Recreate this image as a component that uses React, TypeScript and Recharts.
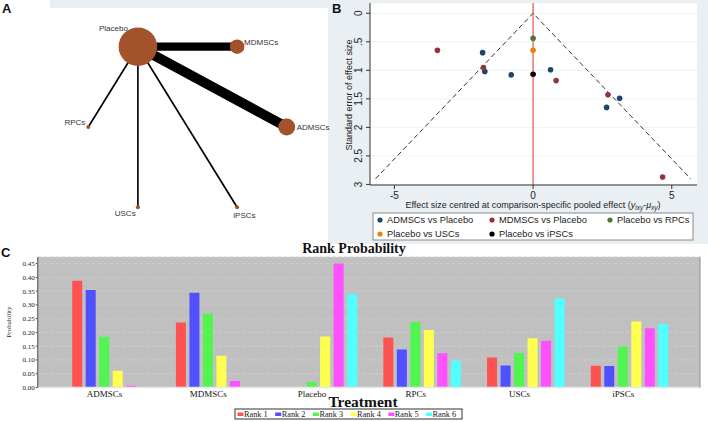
import React from 'react';
import {
  ScatterChart,
  Scatter,
  XAxis,
  YAxis,
  ZAxis,
  ReferenceLine,
  CartesianGrid,
  BarChart,
  Bar,
} from 'recharts';

// ---------------- Panel A: network plot ----------------
const networkNodes = ['Placebo', 'MDMSCs', 'ADMSCs', 'iPSCs', 'USCs', 'RPCs'];
const networkNodeX = [-0.5, 0.5, 1, 0.5, -0.5, -1];
const networkNodeY = [0.866, 0.866, 0, -0.866, -0.866, 0];
const networkNodeWeight = [372, 53, 72, 4, 4, 4];
const networkEdgeFrom = ['Placebo', 'Placebo', 'Placebo', 'Placebo', 'Placebo'];
const networkEdgeTo = ['ADMSCs', 'MDMSCs', 'RPCs', 'USCs', 'iPSCs'];
const networkEdgeStudies = [6, 5, 1, 1, 1];

// ---------------- Panel B: comparison-adjusted funnel plot ----------------
const funnelSeriesNames = [
  'ADMSCs vs Placebo',
  'MDMSCs vs Placebo',
  'Placebo vs RPCs',
  'Placebo vs USCs',
  'Placebo vs iPSCs',
];
const funnelSeriesColors = ['#1a476f', '#90353b', '#55752f', '#e8830f', '#000000'];
const admscVsPlaceboEffect = [-1.82, -1.74, -0.79, 0.63, 2.65, 3.12];
const admscVsPlaceboSE = [0.69, 1.02, 1.08, 0.99, 1.65, 1.49];
const mdmscVsPlaceboEffect = [-3.45, -1.79, 0.83, 2.7, 4.67];
const mdmscVsPlaceboSE = [0.65, 0.95, 1.18, 1.43, 2.87];
const placeboVsRpcEffect = [0];
const placeboVsRpcSE = [0.44];
const placeboVsUscEffect = [0];
const placeboVsUscSE = [0.65];
const placeboVsIpscEffect = [0];
const placeboVsIpscSE = [1.07];
const funnelBoundEffect = [-5.68, 0, 5.68];
const funnelBoundSE = [2.9, 0, 2.9];
const funnelTicksX = [-5, 0, 5];
const funnelTicksY = [0, 0.5, 1, 1.5, 2, 2.5, 3];

// ---------------- Panel C: rank probability ----------------
const treatments = ['ADMSCs', 'MDMSCs', 'Placebo', 'RPCs', 'USCs', 'iPSCs'];
const rank1 = [0.388, 0.236, 0, 0.182, 0.109, 0.079];
const rank2 = [0.354, 0.344, 0, 0.138, 0.08, 0.078];
const rank3 = [0.184, 0.269, 0.02, 0.238, 0.125, 0.149];
const rank4 = [0.061, 0.115, 0.185, 0.209, 0.179, 0.24];
const rank5 = [0.006, 0.024, 0.45, 0.124, 0.17, 0.215];
const rank6 = [0, 0.002, 0.339, 0.097, 0.324, 0.231];
const rankNames = ['Rank 1', 'Rank 2', 'Rank 3', 'Rank 4', 'Rank 5', 'Rank 6'];
const rankColors = ['#ff5252', '#5050ff', '#50f550', '#ffff50', '#ff50ff', '#50ffff'];
const probabilityTicks = [0, 0.05, 0.1, 0.15, 0.2, 0.25, 0.3, 0.35, 0.4, 0.45];

// ---------------- styles ----------------
const SANS = "'Liberation Sans', Arial, Helvetica, sans-serif";
const SERIF = "'Liberation Serif', 'Times New Roman', Times, serif";
const BACKDROP = '#e9eff3';
const NODE_FILL = '#a3532c';

const nodeLabelStyle: Record<string, { dx: number; dy: number; anchor: 'start' | 'middle' | 'end' }> = {
  Placebo: { dx: -10, dy: -15.5, anchor: 'end' },
  MDMSCs: { dx: 7, dy: -1.8, anchor: 'start' },
  ADMSCs: { dx: 10, dy: 2.9, anchor: 'start' },
  RPCs: { dx: -3, dy: -1.8, anchor: 'end' },
  USCs: { dx: -12.7, dy: 8.3, anchor: 'middle' },
  iPSCs: { dx: 7.3, dy: 10.3, anchor: 'middle' },
};

const nodes = networkNodes.map((name, i) => ({
  name,
  x: networkNodeX[i],
  y: networkNodeY[i],
  w: networkNodeWeight[i],
}));
const nodeByName: Record<string, any> = Object.fromEntries(nodes.map((n) => [n.name, n]));
const edges = networkEdgeFrom.map((f, i) => ({
  points: [nodeByName[f], nodeByName[networkEdgeTo[i]]],
  studies: networkEdgeStudies[i],
}));

const EmptyShape = () => <g />;

const NodeShape = (props: any) => {
  const { cx, cy, payload } = props;
  const size = typeof props.size === 'number' && props.size > 0 ? props.size : Math.PI * payload.w;
  const r = Math.sqrt(size / Math.PI);
  const ls = nodeLabelStyle[payload.name];
  return (
    <g>
      <circle cx={cx} cy={cy} r={r} fill={NODE_FILL} />
      <text
        x={cx + ls.dx}
        y={cy + ls.dy}
        textAnchor={ls.anchor}
        fontSize={8}
        fontFamily={SANS}
        fill="#333"
      >
        {payload.name}
      </text>
    </g>
  );
};

function NetworkPanel() {
  return (
    <ScatterChart width={330} height={240} margin={{ top: 0, right: 0, bottom: 0, left: 0 }}>
      <XAxis type="number" dataKey="x" hide domain={[-1.89, 1.4365]} allowDataOverflow />
      <YAxis type="number" dataKey="y" hide domain={[-1.219, 1.37]} allowDataOverflow />
      <ZAxis type="number" dataKey="w" domain={[0, 372]} range={[0, 372 * Math.PI]} />
      {edges.map((e, i) => (
        <Scatter
          key={'e' + i}
          data={e.points}
          line={{ stroke: '#000', strokeWidth: e.studies * 1.65 }}
          lineJointType="linear"
          shape={EmptyShape}
          isAnimationActive={false}
        />
      ))}
      <Scatter data={nodes} shape={NodeShape} isAnimationActive={false} />
    </ScatterChart>
  );
}

// ---------------- Panel B ----------------
const toPoints = (xs: number[], ses: number[]) => xs.map((x, i) => ({ x, se: ses[i] }));
const funnelSeriesData = [
  toPoints(admscVsPlaceboEffect, admscVsPlaceboSE),
  toPoints(mdmscVsPlaceboEffect, mdmscVsPlaceboSE),
  toPoints(placeboVsRpcEffect, placeboVsRpcSE),
  toPoints(placeboVsUscEffect, placeboVsUscSE),
  toPoints(placeboVsIpscEffect, placeboVsIpscSE),
];
const funnelBound = toPoints(funnelBoundEffect, funnelBoundSE);

const fmtSE = (v: number) => String(v).replace(/^0\./, '.');

const FunnelYTick = (p: any) => {
  const x = p.x - 2;
  return (
    <text
      x={x}
      y={p.y}
      transform={`rotate(-90 ${x} ${p.y})`}
      textAnchor="middle"
      fontSize={10}
      fontFamily={SANS}
      fill="#222"
    >
      {fmtSE(p.payload.value)}
    </text>
  );
};

const FunnelXTick = (p: any) => (
  <text x={p.x} y={p.y + 7.5} textAnchor="middle" fontSize={10} fontFamily={SANS} fill="#222">
    {String(p.payload.value)}
  </text>
);

const PointShape = (props: any) => (
  <circle cx={props.cx} cy={props.cy} r={2.8} fill={props.fill} />
);

function FunnelPanel() {
  return (
    <ScatterChart width={380} height={244} margin={{ top: 3, right: 11, bottom: 0, left: 0 }}>
      <CartesianGrid vertical={false} stroke="#eef2f4" fill="#ffffff" />
      <XAxis
        type="number"
        dataKey="x"
        domain={[-5.88, 5.91]}
        allowDataOverflow
        ticks={funnelTicksX}
        interval={0}
        height={59}
        tickSize={4}
        tickMargin={2}
        stroke="#333"
        tick={FunnelXTick}
      />
      <YAxis
        type="number"
        dataKey="se"
        reversed
        domain={[-0.18, 3.01]}
        allowDataOverflow
        ticks={funnelTicksY}
        interval={0}
        width={42}
        tickSize={4}
        tickMargin={2}
        stroke="#333"
        tick={FunnelYTick}
      />
      <Scatter
        data={funnelBound}
        line={{ stroke: '#333', strokeWidth: 1, strokeDasharray: '5 3' }}
        lineJointType="linear"
        shape={EmptyShape}
        isAnimationActive={false}
      />
      <ReferenceLine x={0} stroke="#e0322a" strokeWidth={1} />
      {funnelSeriesData.map((d, i) => (
        <Scatter
          key={funnelSeriesNames[i]}
          name={funnelSeriesNames[i]}
          data={d}
          fill={funnelSeriesColors[i]}
          shape={PointShape}
          isAnimationActive={false}
        />
      ))}
    </ScatterChart>
  );
}

// ---------------- Panel C ----------------
const rankSeries = [rank1, rank2, rank3, rank4, rank5, rank6];
const rankData = treatments.map((name, i) => {
  const row: Record<string, any> = { name };
  rankSeries.forEach((s, k) => {
    row['r' + (k + 1)] = s[i];
  });
  return row;
});

const RankXTick = (p: any) => (
  <text x={p.x - 6} y={p.y + 9} textAnchor="middle" fontSize={9} fontFamily={SERIF} fill="#111">
    {p.payload.value}
  </text>
);

const RankYTick = (p: any) => (
  <text x={p.x} y={p.y + 2.5} textAnchor="end" fontSize={7} fontFamily={SERIF} fill="#222">
    {Number(p.payload.value).toFixed(2)}
  </text>
);

function RankPanel() {
  return (
    <BarChart
      width={708}
      height={182}
      data={rankData}
      margin={{ top: 17, right: 0, bottom: 0, left: 0 }}
      barCategoryGap={13.5}
      barGap={3.5}
    >
      <CartesianGrid vertical={false} stroke="#cdcdcd" strokeDasharray="4 2" fill="#c0c0c0" />
      <XAxis
        dataKey="name"
        height={34.5}
        padding={{ left: 21, right: 19 }}
        tickLine={false}
        tickSize={0}
        tickMargin={0}
        axisLine={{ stroke: '#e6e6e6', strokeWidth: 1.5 }}
        tick={RankXTick}
        interval={0}
      />
      <XAxis
        xAxisId="top"
        dataKey="name"
        orientation="top"
        height={0}
        tick={false}
        tickLine={false}
        axisLine={{ stroke: '#8c8c8c' }}
      />
      <YAxis
        domain={[0, 0.474]}
        allowDataOverflow
        ticks={probabilityTicks}
        interval={0}
        width={37.7}
        tickSize={2}
        tickMargin={1}
        axisLine={{ stroke: '#7a7a7a', strokeWidth: 1.5 }}
        tickLine={{ stroke: '#555' }}
        tick={RankYTick}
      />
      <YAxis
        yAxisId="right"
        orientation="right"
        width={8}
        tick={false}
        tickLine={false}
        axisLine={{ stroke: '#8c8c8c' }}
      />
      {rankNames.map((n, k) => (
        <Bar key={n} dataKey={'r' + (k + 1)} name={n} fill={rankColors[k]} isAnimationActive={false} />
      ))}
    </BarChart>
  );
}

// ---------------- overlay texts / legends ----------------
function Overlay() {
  const legendBPos = [
    [380, 220],
    [492, 220],
    [610, 220],
    [380, 234],
    [492, 234],
  ];
  return (
    <svg
      width={708}
      height={422}
      style={{ position: 'absolute', left: 0, top: 0, pointerEvents: 'none' }}
    >
      {/* panel letters */}
      <text x={2} y={13} fontSize={13} fontWeight="bold" fontFamily={SANS} fill="#111">A</text>
      <text x={332} y={13} fontSize={13} fontWeight="bold" fontFamily={SANS} fill="#111">B</text>
      <text x={1} y={257} fontSize={13} fontWeight="bold" fontFamily={SANS} fill="#111">C</text>

      {/* panel B axis titles */}
      <text
        x={349}
        y={95}
        transform="rotate(-90 349 95)"
        textAnchor="middle"
        dominantBaseline="central"
        fontSize={9}
        fontFamily={SANS}
        fill="#222"
      >
        Standard error of effect size
      </text>
      <text x={533} y={207.5} textAnchor="middle" fontSize={9} fontFamily={SANS} fill="#222">
        Effect size centred at comparison-specific pooled effect (
        <tspan fontStyle="italic">y</tspan>
        <tspan fontStyle="italic" fontSize={6.5} dy={2}>ixy</tspan>
        <tspan dy={-2}>-</tspan>
        <tspan fontStyle="italic">μ</tspan>
        <tspan fontStyle="italic" fontSize={6.5} dy={2}>xy</tspan>
        <tspan dy={-2}>)</tspan>
      </text>

      {/* panel B legend */}
      <rect x={373} y={213} width={320} height={27} fill="#fff" stroke="#8a8a8a" strokeWidth={1} />
      {funnelSeriesNames.map((n, i) => (
        <g key={n}>
          <circle cx={legendBPos[i][0]} cy={legendBPos[i][1]} r={2.6} fill={funnelSeriesColors[i]} />
          <text
            x={legendBPos[i][0] + 7}
            y={legendBPos[i][1] + 3.3}
            fontSize={9.3}
            fontFamily={SANS}
            fill="#222"
          >
            {n}
          </text>
        </g>
      ))}

      {/* panel C titles */}
      <text x={354} y={253} textAnchor="middle" fontSize={14} fontWeight="bold" fontFamily={SERIF} fill="#111">
        Rank Probability
      </text>
      <text x={363} y={406.5} textAnchor="middle" fontSize={15.5} fontWeight="bold" fontFamily={SERIF} fill="#111">
        Treatment
      </text>
      <text
        x={9}
        y={322}
        transform="rotate(-90 9 322)"
        textAnchor="middle"
        dominantBaseline="central"
        fontSize={7}
        fontFamily={SERIF}
        fill="#222"
      >
        Probability
      </text>

      {/* panel C legend */}
      <rect x={235} y={409} width={227} height={10} fill="#fff" stroke="#333" strokeWidth={1} />
      {rankNames.map((n, i) => (
        <g key={n}>
          <rect x={237.5 + i * 37.7} y={412.5} width={6} height={3.5} fill={rankColors[i]} />
          <text x={244 + i * 37.7} y={417} fontSize={8.3} fontFamily={SERIF} fill="#222">
            {n}
          </text>
        </g>
      ))}
    </svg>
  );
}

export default function App() {
  return (
    <div
      style={{
        position: 'absolute',
        left: 0,
        top: 0,
        width: 708,
        height: 422,
        background: '#fff',
        overflow: 'hidden',
      }}
    >
      <div style={{ position: 'absolute', left: 50, top: 0, width: 278, height: 8, background: BACKDROP }} />
      <div style={{ position: 'absolute', left: 328, top: 0, width: 380, height: 244, background: BACKDROP }}>
        <FunnelPanel />
      </div>
      <div style={{ position: 'absolute', left: 0, top: 0 }}>
        <NetworkPanel />
      </div>
      <div style={{ position: 'absolute', left: 0, top: 240 }}>
        <RankPanel />
      </div>
      <Overlay />
    </div>
  );
}
